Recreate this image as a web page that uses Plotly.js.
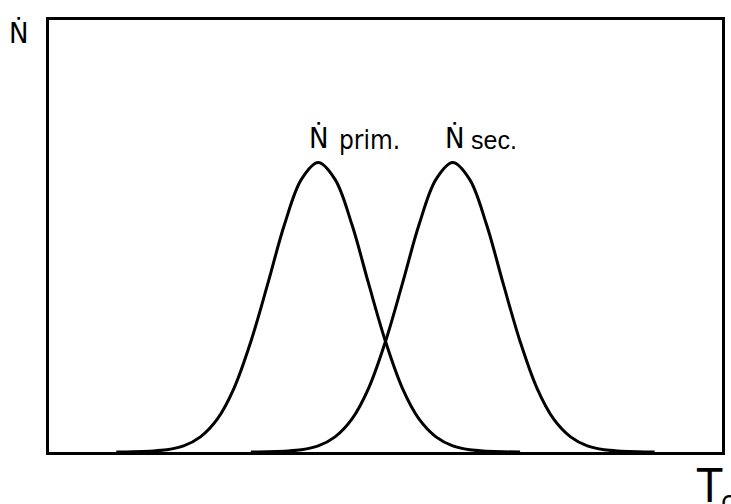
<!DOCTYPE html>
<html>
<head>
<meta charset="utf-8">
<script src="https://cdn.plot.ly/plotly-3.0.1.min.js"></script>
<style>html,body{margin:0;padding:0;background:#fff;}#chart{width:731px;height:504px;}</style>
</head>
<body>
<div id="chart"></div>
<script>
// Temperature axis (arbitrary units, 0..100 across the box)
const xPrim = [10,12.5,15,17.5,20,22.5,25,27.5,30,32.5,35,37.5,40,42.5,45,47.5,50,52.5,55,57.5,60,62.5,65,67.5,70];
const yPrim = [0,0.05,0.2,0.5,1.4,3.5,7.6,14.8,25.6,38.9,52.7,63.1,67.0,63.1,52.7,38.9,25.6,14.8,7.6,3.5,1.4,0.5,0.2,0.05,0];
const xSec  = [30,32.5,35,37.5,40,42.5,45,47.5,50,52.5,55,57.5,60,62.5,65,67.5,70,72.5,75,77.5,80,82.5,85,87.5,90];
const ySec  = [0,0.05,0.2,0.5,1.4,3.5,7.6,14.8,25.6,38.9,52.7,63.1,67.0,63.1,52.7,38.9,25.6,14.8,7.6,3.5,1.4,0.5,0.2,0.05,0];
const symbolN = "Ṅ";
const suffixPrim = "prim.";
const suffixSec = "sec.";
const labelT = "T";
const labelTsub = "c";

const NARROW = "'Liberation Sans Narrow','Arial Narrow','DejaVu Sans Condensed',sans-serif";
const REGULAR = "'Liberation Sans',Arial,Helvetica,sans-serif";
const curveLine = {color:'#000', width:3, shape:'spline'};

const traces = [
  {x:xPrim, y:yPrim, mode:'lines', line:curveLine, hoverinfo:'skip'},
  {x:xSec,  y:ySec,  mode:'lines', line:curveLine, hoverinfo:'skip'}
];

const axisBase = {showline:true, mirror:true, linewidth:3, linecolor:'#000',
  showgrid:false, zeroline:false, ticks:'', showticklabels:false, fixedrange:true};

function ann(text, x, y, xref, yref, size, family) {
  return {text:text, x:x, y:y, xref:xref, yref:yref, xanchor:'left', yanchor:'middle',
          showarrow:false, font:{size:size, family:family, color:'#000'}};
}

const layout = {
  width:731, height:504,
  margin:{l:49, r:9, t:20, b:52},
  paper_bgcolor:'#fff', plot_bgcolor:'#fff',
  showlegend:false,
  font:{family:NARROW, color:'#000', size:28},
  xaxis:Object.assign({range:[0,100]}, axisBase),
  yaxis:Object.assign({range:[0,100]}, axisBase),
  annotations:[
    ann(symbolN, 38.33, 72.6, 'x', 'y', 29, NARROW),
    ann(suffixPrim, 42.79, 72.15, 'x', 'y', 26, NARROW),
    ann(symbolN, 58.54, 72.6, 'x', 'y', 29, NARROW),
    ann(suffixSec, 62.41, 72.15, 'x', 'y', 25, REGULAR),
    ann(symbolN, -0.0624, 0.971, 'paper', 'paper', 29, NARROW),
    ann(labelT, 0.9584, -0.0787, 'paper', 'paper', 46, NARROW),
    ann(labelTsub, 0.9955, -0.1157, 'paper', 'paper', 28, NARROW)
  ]
};

Plotly.newPlot('chart', traces, layout, {displayModeBar:false, staticPlot:true});
</script>
</body>
</html>
